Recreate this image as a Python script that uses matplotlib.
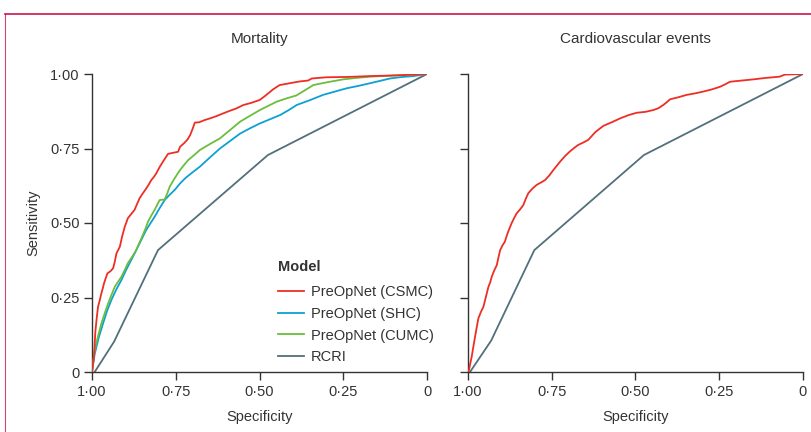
import matplotlib
matplotlib.use("Agg")
import matplotlib.pyplot as plt
from matplotlib.lines import Line2D

plt.rcParams['font.family'] = ['Liberation Sans', 'DejaVu Sans']

# ---------------- data (false positive rate = 1 - specificity, sensitivity) ----------------
panel_titles = ["Mortality", "Cardiovascular events"]
tick_values = [0, 0.25, 0.5, 0.75, 1.0]
tick_labels = ["0", "0·25", "0·50", "0·75", "1·00"]
xtick_labels = ["1·00", "0·75", "0·50", "0·25", "0"]  # specificity shown reversed

mort_csmc_fpr = [0, 0.003, 0.006, 0.010, 0.014, 0.018, 0.023, 0.028, 0.032, 0.036, 0.041, 0.046, 0.055,
                 0.063, 0.068, 0.073, 0.083, 0.090, 0.098, 0.107, 0.117, 0.127, 0.135, 0.142, 0.152, 0.162,
                 0.170, 0.177, 0.185, 0.192, 0.202, 0.212, 0.220, 0.227, 0.240, 0.257, 0.263, 0.275, 0.285,
                 0.293, 0.300, 0.307, 0.320, 0.335, 0.352, 0.370, 0.392, 0.410, 0.430, 0.452, 0.475, 0.501,
                 0.515, 0.526, 0.540, 0.556, 0.561, 0.590, 0.620, 0.645, 0.656, 0.700, 0.760, 0.830, 0.900,
                 0.960, 1.0]
mort_csmc_sens = [0, 0.030, 0.051, 0.135, 0.180, 0.219, 0.240, 0.264, 0.280, 0.298, 0.315, 0.331, 0.338,
                  0.348, 0.370, 0.398, 0.420, 0.455, 0.488, 0.516, 0.530, 0.544, 0.565, 0.583, 0.600, 0.616,
                  0.630, 0.644, 0.655, 0.667, 0.688, 0.706, 0.720, 0.732, 0.735, 0.739, 0.756, 0.768, 0.780,
                  0.795, 0.815, 0.837, 0.838, 0.845, 0.851, 0.858, 0.868, 0.876, 0.884, 0.896, 0.903, 0.913,
                  0.925, 0.935, 0.948, 0.960, 0.963, 0.969, 0.975, 0.978, 0.985, 0.989, 0.990, 0.993, 0.995,
                  0.998, 1.0]

mort_shc_fpr = [0, 0.008, 0.020, 0.033, 0.045, 0.058, 0.073, 0.088, 0.100, 0.112, 0.125, 0.137, 0.150,
                0.162, 0.175, 0.187, 0.202, 0.217, 0.232, 0.247, 0.263, 0.280, 0.300, 0.322, 0.352, 0.382,
                0.412, 0.442, 0.472, 0.501, 0.531, 0.561, 0.586, 0.611, 0.650, 0.690, 0.725, 0.760, 0.795,
                0.830, 0.860, 0.890, 0.925, 0.960, 1.0]
mort_shc_sens = [0, 0.060, 0.115, 0.163, 0.205, 0.242, 0.278, 0.309, 0.338, 0.365, 0.393, 0.420, 0.450,
                 0.477, 0.500, 0.521, 0.550, 0.577, 0.595, 0.611, 0.633, 0.652, 0.670, 0.689, 0.720, 0.750,
                 0.775, 0.800, 0.818, 0.834, 0.848, 0.862, 0.878, 0.896, 0.912, 0.930, 0.941, 0.952, 0.960,
                 0.969, 0.977, 0.985, 0.990, 0.993, 1.0]

mort_cumc_fpr = [0, 0.008, 0.018, 0.028, 0.038, 0.048, 0.058, 0.068, 0.078, 0.088, 0.098, 0.107, 0.120,
                 0.132, 0.142, 0.152, 0.160, 0.167, 0.177, 0.187, 0.195, 0.202, 0.217, 0.225, 0.232, 0.245,
                 0.257, 0.263, 0.275, 0.287, 0.305, 0.322, 0.352, 0.382, 0.412, 0.442, 0.472, 0.501, 0.526,
                 0.551, 0.580, 0.610, 0.635, 0.661, 0.705, 0.750, 0.790, 0.830, 0.900, 0.960, 1.0]
mort_cumc_sens = [0, 0.074, 0.120, 0.163, 0.197, 0.230, 0.258, 0.286, 0.303, 0.320, 0.343, 0.365, 0.387,
                  0.409, 0.435, 0.460, 0.482, 0.504, 0.525, 0.544, 0.562, 0.577, 0.579, 0.600, 0.622, 0.647,
                  0.668, 0.678, 0.695, 0.711, 0.728, 0.745, 0.765, 0.784, 0.812, 0.840, 0.860, 0.879, 0.893,
                  0.907, 0.918, 0.928, 0.945, 0.963, 0.973, 0.982, 0.987, 0.991, 0.995, 0.998, 1.0]

cv_csmc_fpr = [0, 0.003, 0.007, 0.011, 0.016, 0.021, 0.026, 0.031, 0.038, 0.046, 0.053, 0.061, 0.066,
               0.071, 0.078, 0.086, 0.091, 0.096, 0.103, 0.110, 0.115, 0.120, 0.125, 0.130, 0.137, 0.145,
               0.155, 0.165, 0.172, 0.180, 0.192, 0.205, 0.218, 0.230, 0.243, 0.255, 0.265, 0.275, 0.290,
               0.304, 0.317, 0.329, 0.344, 0.359, 0.380, 0.404, 0.429, 0.454, 0.479, 0.504, 0.530, 0.553,
               0.568, 0.583, 0.593, 0.603, 0.628, 0.653, 0.678, 0.702, 0.727, 0.752, 0.767, 0.782, 0.817,
               0.852, 0.890, 0.930, 0.946, 0.975, 1.0]
cv_csmc_sens = [0, 0.007, 0.030, 0.051, 0.085, 0.118, 0.150, 0.180, 0.200, 0.219, 0.250, 0.286, 0.300,
                0.320, 0.340, 0.359, 0.385, 0.409, 0.425, 0.437, 0.455, 0.471, 0.485, 0.499, 0.515, 0.532,
                0.545, 0.560, 0.580, 0.600, 0.615, 0.628, 0.636, 0.644, 0.660, 0.678, 0.692, 0.706, 0.725,
                0.740, 0.752, 0.762, 0.770, 0.779, 0.805, 0.826, 0.838, 0.851, 0.862, 0.870, 0.873, 0.879,
                0.885, 0.896, 0.905, 0.915, 0.922, 0.930, 0.935, 0.941, 0.948, 0.957, 0.965, 0.974, 0.978,
                0.982, 0.987, 0.991, 0.998, 0.999, 1.0]

rcri_mort_fpr = [0.008, 0.066, 0.197, 0.525, 1.0]
rcri_mort_sens = [0, 0.102, 0.409, 0.728, 1.0]
rcri_cv_fpr = [0.006, 0.069, 0.198, 0.525, 1.0]
rcri_cv_sens = [0, 0.105, 0.409, 0.728, 1.0]

series_labels = ["PreOpNet (CSMC)", "PreOpNet (SHC)", "PreOpNet (CUMC)", "RCRI"]

# ---------------- styling ----------------
c_red = "#ee2e24"
c_blue = "#0fa0d2"
c_green = "#6bbd3e"
c_rcri = "#52707b"
c_axis = "#333333"
c_frame = "#c8154a"

fig = plt.figure(figsize=(8.11, 4.32), dpi=100)
ax1 = fig.add_axes([92 / 811, 60 / 432, 335 / 811, 298 / 432])
ax2 = fig.add_axes([468 / 811, 60 / 432, 335 / 811, 298 / 432])

lw = 1.3
ax1.plot(mort_csmc_fpr, mort_csmc_sens, color=c_red, lw=lw, label=series_labels[0], zorder=5)
ax1.plot(mort_shc_fpr, mort_shc_sens, color=c_blue, lw=lw, label=series_labels[1], zorder=3)
ax1.plot(mort_cumc_fpr, mort_cumc_sens, color=c_green, lw=lw, label=series_labels[2], zorder=4)
ax1.plot(rcri_mort_fpr, rcri_mort_sens, color=c_rcri, lw=lw, label=series_labels[3], zorder=2)

ax2.plot(cv_csmc_fpr, cv_csmc_sens, color=c_red, lw=lw, zorder=5)
ax2.plot(rcri_cv_fpr, rcri_cv_sens, color=c_rcri, lw=lw, zorder=2)

fs = 10.5
for i, ax in enumerate((ax1, ax2)):
    ax.set_xlim(0, 1)
    ax.set_ylim(0, 1)
    for s in ("top", "right"):
        ax.spines[s].set_visible(False)
    for s in ("left", "bottom"):
        ax.spines[s].set_color(c_axis)
        ax.spines[s].set_linewidth(1.0)
    ax.set_xticks(tick_values)
    ax.set_xticklabels(xtick_labels)
    ax.set_yticks(tick_values)
    ax.tick_params(direction="out", length=6, width=1.0, color=c_axis, labelcolor=c_axis,
                   labelsize=fs, pad=3)
    ax.set_xlabel("Specificity", fontsize=fs, color=c_axis, labelpad=8)
    ax.set_title(panel_titles[i], fontsize=fs + 0.5, color=c_axis, pad=22)
    ax.patch.set_visible(False)

ax1.set_yticklabels(tick_labels)
ax2.set_yticklabels([])
ax1.set_ylabel("Sensitivity", fontsize=fs, color=c_axis, labelpad=7)

leg = ax1.legend(loc="upper left", bbox_to_anchor=(0.555, 0.375), frameon=False, fontsize=fs,
                 title="Model", handlelength=1.8, handletextpad=0.45, labelspacing=0.52,
                 borderaxespad=0, borderpad=0)
leg.get_title().set_fontweight("bold")
leg.get_title().set_fontsize(fs)
leg.get_title().set_color(c_axis)
leg._legend_box.align = "left"
leg._legend_box.sep = 8
for t in leg.get_texts():
    t.set_color(c_axis)

# figure frame (top and left rule)
fig.add_artist(Line2D([5 / 811, 1], [1 - 14 / 432, 1 - 14 / 432], transform=fig.transFigure,
                      color=c_frame, lw=1.2))
fig.add_artist(Line2D([5 / 811, 5 / 811], [0, 1 - 14 / 432], transform=fig.transFigure,
                      color=c_frame, lw=0.8, alpha=0.8))

fig.savefig("out.png", dpi=100)
